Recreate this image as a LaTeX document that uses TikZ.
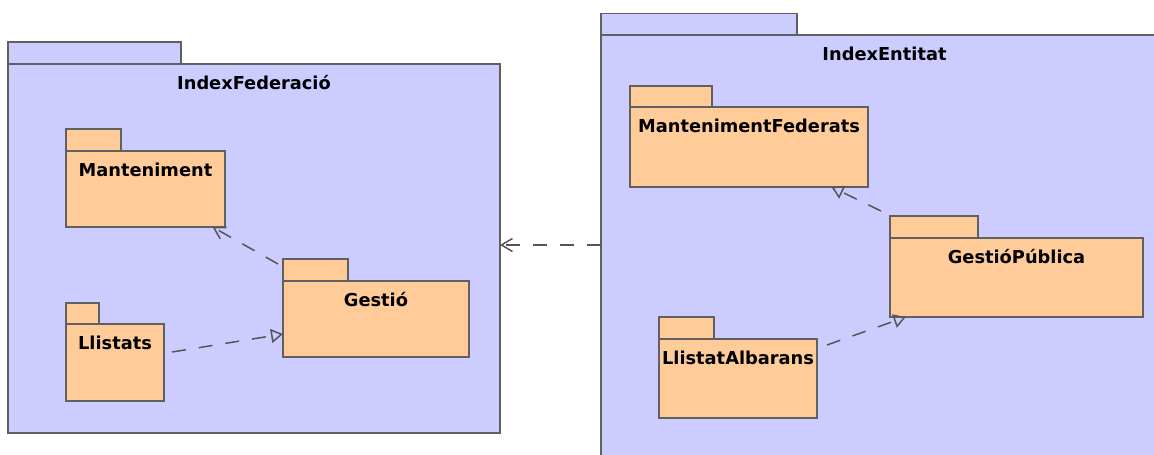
\documentclass[tikz,border=0pt]{standalone}
\usepackage{fontspec}
\setmainfont{DejaVu Sans}
\usetikzlibrary{arrows.meta,fit,calc}
\definecolor{pkgline}{RGB}{96,96,96}
\definecolor{depline}{RGB}{85,85,85}
\definecolor{outerfill}{RGB}{204,204,255}
\definecolor{innerfill}{RGB}{255,204,153}
% UML package: tab, body (named node) and its name near the top of the body
% #1 node name, #2 left x, #3 tab top, #4 tab right, #5 body top, #6 right x, #7 bottom, #8 fill, #9 label
\newcommand{\umlpkg}[9]{%
  \filldraw[pkgtab,fill=#8] (#2,#3) rectangle (#4,#5);
  \node[pkgbody,fill=#8,fit={(#2,#5) (#6,#7)}] (#1) {};
  \node[pkgname] (#1-name) at ($(#1.north)+(0,25)$) {#9};
}
\begin{document}
\begin{tikzpicture}[x=1pt,y=-1pt,
  pkgtab/.style={draw=pkgline,line width=1.4pt},
  pkgbody/.style={rectangle,draw=pkgline,line width=1.4pt,inner sep=0pt,outer sep=0pt},
  pkgname/.style={font=\fontsize{17.8}{20}\selectfont\bfseries,anchor=base,inner sep=0pt},
  dep/.style={draw=depline,line width=1.5pt,dash pattern=on 14pt off 13pt},
  usedep/.style={dep,-{Straight Barb[length=11pt,width=13pt]}},
  realdep/.style={dep,-{Triangle[open,length=12pt,width=14pt]}}]
\clip (0,0) rectangle (1154,455);
\fill[white] (0,0) rectangle (1154,455);

% left package and its contents
\umlpkg{fed}{8}{42}{181}{64}{500}{433}{outerfill}{IndexFederació}
\umlpkg{mant}{66}{129}{121}{151}{225}{227}{innerfill}{Manteniment}
\umlpkg{llis}{66}{303}{99}{324}{164}{401}{innerfill}{Llistats}
\umlpkg{gest}{283}{259}{348}{281}{469}{357}{innerfill}{Gestió}

% right package and its contents
\umlpkg{ent}{601}{13.5}{797}{35}{1168}{480}{outerfill}{IndexEntitat}
\umlpkg{mfed}{630}{86}{712}{107}{868}{187}{innerfill}{MantenimentFederats}
\umlpkg{gpub}{890}{216}{978}{238}{1143}{317}{innerfill}{GestióPública}
\umlpkg{lalb}{659}{317}{714}{339}{817}{418}{innerfill}{LlistatAlbarans}

% dependencies
\coordinate (s-gm) at (278,264);
\draw[usedep] (s-gm) -- (mant);
\coordinate (s-lg) at (172,352);
\draw[realdep] (s-lg) -- (gest);
\coordinate (s-pf) at (881,211);
\draw[realdep] (s-pf) -- (mfed);
\coordinate (s-ag) at (827,345);
\draw[realdep] (s-ag) -- (gpub);
\coordinate (s-ef) at (601,245);
\draw[usedep] (s-ef) -- (fed.east |- s-ef);
\end{tikzpicture}
\end{document}
